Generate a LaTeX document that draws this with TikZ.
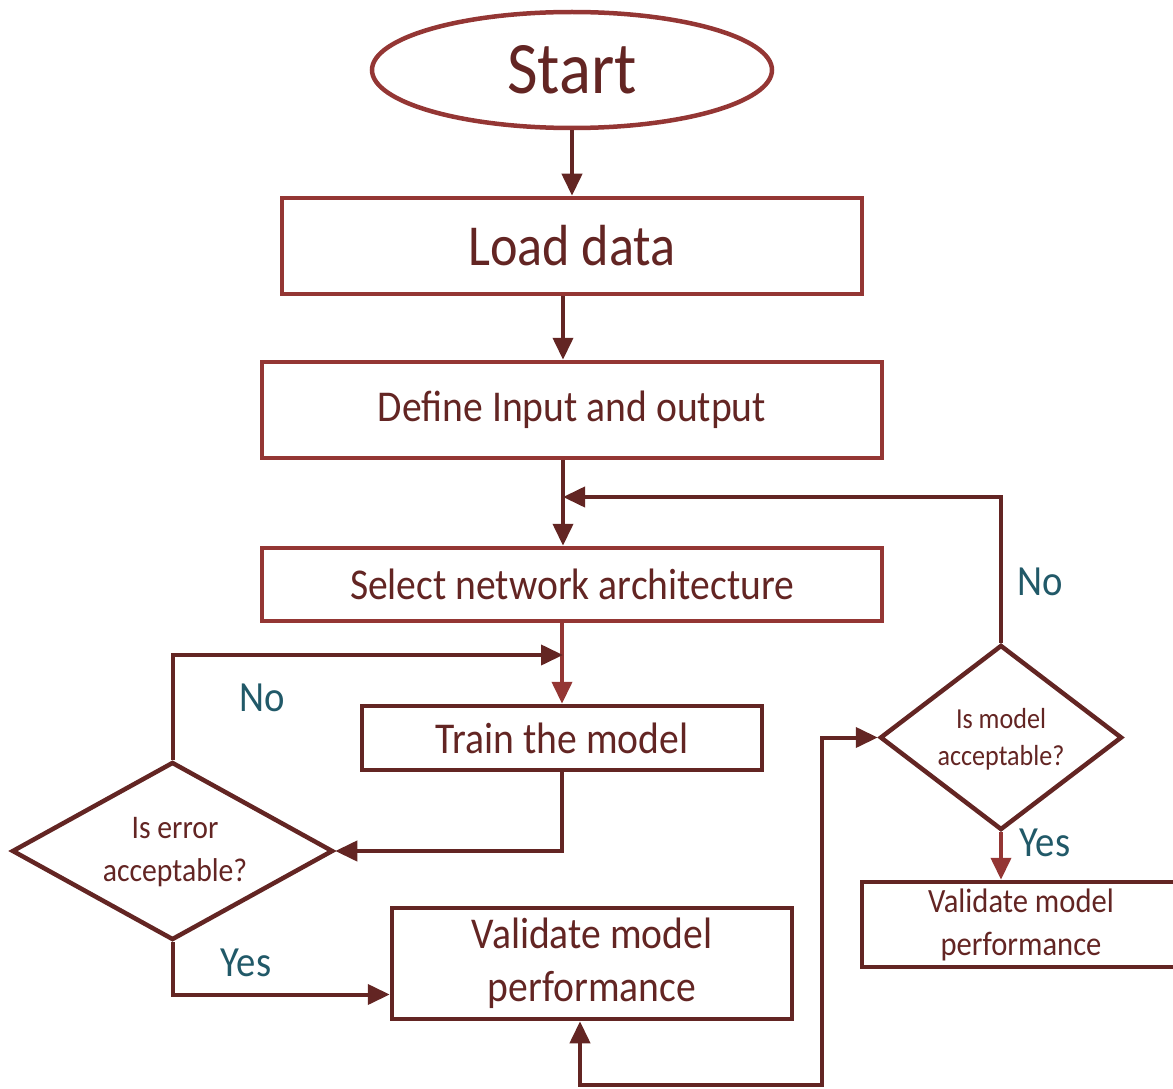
\documentclass[tikz,border=0pt]{standalone}
\usepackage{fontspec}
\setmainfont{Carlito}[FakeStretch=0.9]
\usetikzlibrary{arrows.meta,shapes.geometric}
\definecolor{lred}{HTML}{943634}
\definecolor{dred}{HTML}{632523}
\definecolor{tealtxt}{HTML}{215968}
\tikzset{
  tip/.tip={Triangle[length=22pt,width=20pt]},
  box/.style={draw=lred, line width=4.5pt, rectangle, inner sep=0pt, text=dred, align=center},
  dbox/.style={box, draw=dred},
  dia/.style={draw=dred, line width=4.5pt, diamond, inner sep=0pt},
  diatext/.style={text=dred, align=center, inner sep=0pt},
  conn/.style={draw=dred, line width=4pt, -tip},
  lconn/.style={conn, draw=lred},
  both/.style={draw=dred, line width=4pt, tip-tip},
  lab/.style={text=tealtxt, inner sep=0pt, font=\fontsize{43}{50}\selectfont}
}
\begin{document}
\begin{tikzpicture}[x=1pt, y={(0pt,-1pt)}]
\useasboundingbox (0,0) rectangle (1173,1089);
\node[box, ellipse, minimum width=400pt, minimum height=116pt, font=\fontsize{74}{88}\selectfont] (start) at (572,70) {Start};
\node[box, minimum width=580pt, minimum height=96pt, font=\fontsize{58}{70}\selectfont] (load) at (572,246) {Load data};
\node[box, minimum width=620pt, minimum height=96pt, font=\fontsize{44}{53}\selectfont] (define) at (572,410) {Define Input and output};
\node[box, minimum width=620pt, minimum height=73pt, font=\fontsize{44}{53}\selectfont] (select) at (572,584.5) {Select network architecture};
\node[dbox, minimum width=400pt, minimum height=64pt, font=\fontsize{44}{53}\selectfont] (train) at (562,738) {Train the model};
\node[dia, minimum width=321pt, minimum height=178pt] (err) at (172.5,851) {};
\node[diatext, font=\fontsize{33}{43}\selectfont] (errtext) at (175,852) {Is error\\acceptable?};
\node[dbox, minimum width=400pt, minimum height=111pt, font=\fontsize{44}{53}\selectfont] (val1) at (592,963.5) {Validate model\\performance};
\node[dia, minimum width=242pt, minimum height=185pt] (model) at (1001,737.5) {};
\node[diatext, font=\fontsize{29}{37}\selectfont] (modeltext) at (1001,739) {Is model\\acceptable?};
\node[dbox, minimum width=318pt, minimum height=85pt, font=\fontsize{34}{43}\selectfont] (val2) at (1021,924.5) {Validate model\\performance};

\coordinate (j1) at (563,655);
\coordinate (j2) at (563,497);
\coordinate (c1) at (822,1085);

\draw[conn] (start.south) -- (load.north);
\draw[conn] ([xshift=-9pt]load.south) -- ([xshift=-9pt]define.north);
\draw[conn] ([xshift=-9pt]define.south) -- ([xshift=-9pt]select.north);
\draw[lconn] (select.south -| train.north) -- (train.north);
\draw[conn] (train.south) |- (err.east);
\draw[conn] (err.north) |- (j1);
\draw[conn] (err.south) |- ([yshift=-31pt]val1.west);
\draw[both] ([xshift=-12pt]val1.south) |- (c1) |- (model.west);
\draw[conn] (model.north) |- (j2);
\draw[lconn] (model.south) -- (model.south |- val2.north);

\node[lab] (no1) at (262,698) {No};
\node[lab] (yes1) at (246,963) {Yes};
\node[lab] (no2) at (1040,582) {No};
\node[lab] (yes2) at (1045,843) {Yes};
\end{tikzpicture}
\end{document}
